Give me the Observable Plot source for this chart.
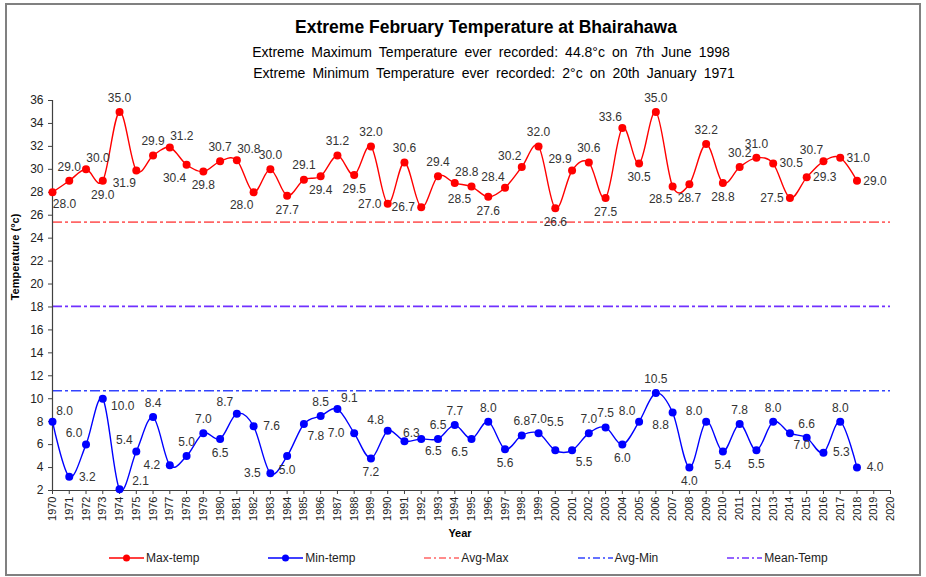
<!DOCTYPE html>
<html>
<head>
<meta charset="utf-8">
<script src="https://cdn.jsdelivr.net/npm/d3@7"></script>
<script src="https://cdn.jsdelivr.net/npm/@observablehq/plot@0.6"></script>
<style>
  body { margin: 0; background: #fff; font-family: "Liberation Sans", Arial, sans-serif; }
  #wrap { position: relative; width: 926px; height: 577px; overflow: hidden; background: #fff; }
  #frame { position: absolute; left: 5px; top: 3px; width: 916px; height: 573px; border: 2px solid #808080; box-sizing: border-box; pointer-events: none; }
  .ttl { position: absolute; white-space: nowrap; transform: translateX(-50%); color: #000; }
  #title { left: 486px; top: 19px; font-size: 17.5px; line-height: 17px; font-weight: bold; }
  #sub1 { left: 491px; top: 45px; font-size: 14px; line-height: 14px; word-spacing: 3.2px; }
  #sub2 { left: 494px; top: 66px; font-size: 14px; line-height: 14px; word-spacing: 3.2px; }
  #ylab { position: absolute; left: 15px; top: 257px; transform: translate(-50%, -50%) rotate(-90deg); font-size: 11px; font-weight: bold; white-space: nowrap; }
  #xlab { position: absolute; left: 460px; top: 527px; transform: translateX(-50%); font-size: 11px; font-weight: bold; }
  #chart { position: absolute; left: 0; top: 0; }
  #legend { position: absolute; left: 109px; top: 550px; display: flex; gap: 69px; font-size: 12px; color: #222; }
  #legend .item { display: flex; align-items: center; gap: 2px; line-height: 16px; }
</style>
</head>
<body>
<div id="wrap">
  <div id="chart"></div>
  <div id="title" class="ttl">Extreme February Temperature at Bhairahawa</div>
  <div id="sub1" class="ttl">Extreme Maximum Temperature ever recorded: 44.8°c on 7th June 1998</div>
  <div id="sub2" class="ttl">Extreme Minimum Temperature ever recorded: 2°c on 20th January 1971</div>
  <div id="ylab">Temperature (°c)</div>
  <div id="xlab">Year</div>
  <div id="legend"></div>
  <div id="frame"></div>
</div>
<script>
// ---------- data ----------
const years = [1970,1971,1972,1973,1974,1975,1976,1977,1978,1979,
               1980,1981,1982,1983,1984,1985,1986,1987,1988,1989,
               1990,1991,1992,1993,1994,1995,1996,1997,1998,1999,
               2000,2001,2002,2003,2004,2005,2006,2007,2008,2009,
               2010,2011,2012,2013,2014,2015,2016,2017,2018];
const maxTemp = [28.0,29.0,30.0,29.0,35.0,29.9,31.2,31.9,30.4,29.8,
                 30.7,30.8,28.0,30.0,27.7,29.1,29.4,31.2,29.5,32.0,
                 27.0,30.6,26.7,29.4,28.8,28.5,27.6,28.4,30.2,32.0,
                 26.6,29.9,30.6,27.5,33.6,30.5,35.0,28.5,28.7,32.2,
                 28.8,30.2,31.0,30.5,27.5,29.3,30.7,31.0,29.0];
const minTemp = [8.0,3.2,6.0,10.0,2.1,5.4,8.4,4.2,5.0,7.0,
                 6.5,8.7,7.6,3.5,5.0,7.8,8.5,9.1,7.0,4.8,
                 7.2,6.3,6.5,6.5,7.7,6.5,8.0,5.6,6.8,7.0,
                 5.5,5.5,7.0,7.5,6.0,8.0,10.5,8.8,4.0,8.0,
                 5.4,7.8,5.5,8.0,7.0,6.6,5.3,8.0,4.0];
// data label texts as printed on the chart
const maxLabels = ["28.0","29.0","30.0","29.0","35.0","31.9","29.9","31.2","30.4","29.8",
                   "30.7","30.8","28.0","30.0","27.7","29.1","29.4","31.2","29.5","32.0",
                   "27.0","30.6","26.7","29.4","28.8","28.5","27.6","28.4","30.2","32.0",
                   "26.6","29.9","30.6","27.5","33.6","30.5","35.0","28.5","28.7","32.2",
                   "28.8","30.2","31.0","30.5","27.5","29.3","30.7","31.0","29.0"];
const minLabels = ["8.0","3.2","6.0","10.0","2.1","5.4","8.4","4.2","5.0","7.0",
                   "6.5","8.7","7.6","3.5","5.0","7.8","8.5","9.1","7.0","7.2",
                   "4.8","6.3","6.5","6.5","7.7","6.5","8.0","5.6","6.8","7.0",
                   "5.5","5.5","7.0","7.5","6.0","8.0","10.5","8.8","4.0","8.0",
                   "5.4","7.8","5.5","8.0","7.0","6.6","5.3","8.0","4.0"];
const avgMax = 25.4;
const avgMin = 10.7;
const meanTemp = 18.05;
const xTickYears = d3.range(1970, 2021);
const yTickValues = d3.range(2, 37, 2);

// ---------- label placement (layout only) ----------
const maxLabelPlace = ["br","a","ar","b","a","bl","a","ar","bl","b",
                       "a","ar","bl","a","b","a","b","a","b","a",
                       "l","a","l","a","ar","bl","b","al","al","a",
                       "b","al","a","b","al","b","a","bl","b","a",
                       "b","a","a","r","l","r","al","r","r"];
const minLabelPlace = ["ar","r","al","rb","ra","al","a","l","a","a",
                       "b","al","r","l","b","br","a","ar","l","b",
                       "al","ar2","br","a","a","bl","a","b","a","a",
                       "a2","br","a","a","b","al","a","bl","b","al",
                       "b","a","b","a","br","a","r","a","r"];
const offsets = {a:[0,-14], a2:[0,-28], b:[0,14], l:[-18,0], r:[18,0],
                 al:[-12,-11], ar:[12,-11], bl:[-12,13], br:[12,12],
                 rb:[20,7], ra:[21,-8], ar2:[7,-8]};

const maxData = years.map((y,i) => ({year:y, v:maxTemp[i], label:maxLabels[i], place:maxLabelPlace[i]}));
const minData = years.map((y,i) => ({year:y, v:minTemp[i], label:minLabels[i], place:minLabelPlace[i]}));

const refLines = [
  {v: avgMax, color: "#ff6666"},
  {v: meanTemp, color: "#7030ff"},
  {v: avgMin, color: "#3344ff"}
];

const labelMarks = (data) => Object.entries(offsets).map(([k,[dx,dy]]) =>
  Plot.text(data, {filter: d => d.place === k, x: "year", y: "v", text: "label",
                   dx, dy, fontSize: 12, fill: "#333"}));

const plot = Plot.plot({
  width: 926,
  height: 577,
  marginLeft: 52,
  marginRight: 36,
  marginTop: 100,
  marginBottom: 87,
  style: {fontFamily: "'Liberation Sans', Arial, sans-serif", fontSize: "12px", color: "#222", background: "transparent"},
  x: {domain: [1970, 2020]},
  y: {domain: [2, 36]},
  marks: [
    ...refLines.map(r => Plot.ruleY([r.v], {x1: 1970, x2: 2020, stroke: r.color, strokeWidth: 1.6, strokeDasharray: "10,3,3,3"})),
    Plot.ruleX([1970], {y1: 2, y2: 36, stroke: "#404040", strokeWidth: 1.2}),
    Plot.ruleY([2], {x1: 1970, x2: 2020, stroke: "#404040", strokeWidth: 1.2}),
    Plot.axisY({ticks: yTickValues, tickSize: 4, tickPadding: 5, fontSize: 12, label: null, stroke: "#404040"}),
    Plot.axisX({ticks: xTickYears, tickFormat: d => String(d), tickRotate: -90, tickSize: 4, tickPadding: 2, fontSize: 11, label: null, stroke: "#404040"}),
    Plot.line(maxData, {x: "year", y: "v", stroke: "#ff0000", strokeWidth: 1.4, curve: "cardinal"}),
    Plot.dot(maxData, {x: "year", y: "v", r: 4, fill: "#ff0000"}),
    Plot.line(minData, {x: "year", y: "v", stroke: "#0000ff", strokeWidth: 1.4, curve: "cardinal"}),
    Plot.dot(minData, {x: "year", y: "v", r: 4, fill: "#0000ff"}),
    ...labelMarks(maxData),
    ...labelMarks(minData)
  ]
});
document.getElementById("chart").appendChild(plot);

// ---------- legend ----------
const legendItems = [
  {name: "Max-temp", color: "#ff0000", dot: true},
  {name: "Min-temp", color: "#0000ff", dot: true},
  {name: "Avg-Max", color: "#ff6666", dot: false},
  {name: "Avg-Min", color: "#3344ff", dot: false},
  {name: "Mean-Temp", color: "#7030ff", dot: false}
];
const legend = document.getElementById("legend");
legendItems.forEach(it => {
  const div = document.createElement("div");
  div.className = "item";
  const sw = it.dot
    ? `<svg width="35" height="10"><line x1="0" y1="5" x2="35" y2="5" stroke="${it.color}" stroke-width="1.5"/><circle cx="17.5" cy="5" r="3.5" fill="${it.color}"/></svg>`
    : `<svg width="35" height="10"><line x1="0" y1="5" x2="35" y2="5" stroke="${it.color}" stroke-width="1.3" stroke-dasharray="7,3,2,3"/></svg>`;
  div.innerHTML = sw + `<span>${it.name}</span>`;
  legend.appendChild(div);
});
</script>
</body>
</html>
